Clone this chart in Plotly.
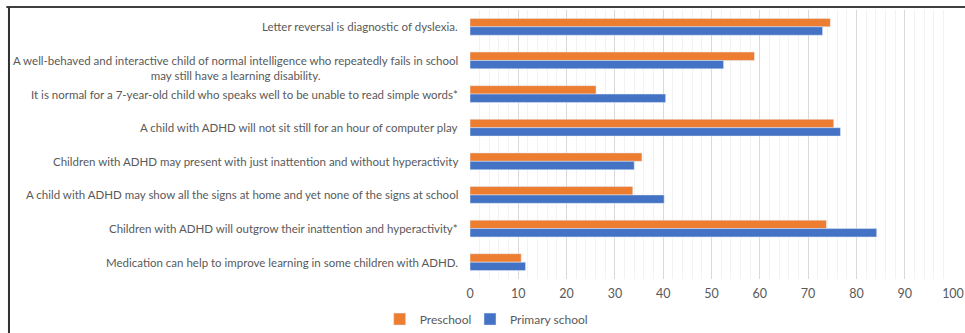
import plotly.graph_objects as go

statements = [
    "Letter reversal is diagnostic of dyslexia.",
    "A well-behaved and interactive child of normal intelligence who repeatedly fails in school<br>may still have a learning disability.",
    "It is normal for a 7-year-old child who speaks well to be unable to read simple words*",
    "A child with ADHD will not sit still for an hour of computer play",
    "Children with ADHD may present with just inattention and without hyperactivity",
    "A child with ADHD may show all the signs at home and yet none of the signs at school",
    "Children with ADHD will outgrow their inattention and hyperactivity*",
    "Medication can help to improve learning in some children with ADHD.",
]
preschool = [74.6, 58.9, 26.1, 75.3, 35.6, 33.7, 73.8, 10.6]
primary_school = [73.0, 52.5, 40.5, 76.7, 34.0, 40.2, 84.2, 11.5]
x_ticks = [0, 10, 20, 30, 40, 50, 60, 70, 80, 90, 100]

ORANGE = "#ED7D31"
BLUE = "#4472C4"
TEXT = "#595959"
FONT = "Lato"

fig = go.Figure()
fig.add_trace(go.Bar(y=statements, x=preschool, orientation="h", name="Preschool",
                     marker=dict(color=ORANGE), legend="legend"))
fig.add_trace(go.Bar(y=statements, x=primary_school, orientation="h", name="Primary school",
                     marker=dict(color=BLUE), legend="legend2"))

# statement labels, centred line-by-line and right-aligned against the plot
for s in statements:
    multi = "<br>" in s
    fig.add_annotation(x=0, xref="paper", y=s, yref="y", text=s, showarrow=False,
                       xanchor="right", yanchor="middle", align="center",
                       xshift=-10, yshift=-8 if multi else 0,
                       font=dict(family=FONT, size=11.5, color=TEXT))

# outer frame lines (top and left)
fig.add_shape(type="line", xref="paper", yref="paper", x0=-0.96, x1=1.03,
              y0=1.011, y1=1.011, line=dict(color="#404040", width=2))
fig.add_shape(type="line", xref="paper", yref="paper", x0=-0.9545, x1=-0.9545,
              y0=1.011, y1=-0.21, line=dict(color="#303030", width=2))

legend_style = dict(orientation="h", xanchor="left", y=-0.149, yanchor="middle",
                    bgcolor="rgba(0,0,0,0)",
                    font=dict(family=FONT, size=12, color=TEXT), itemwidth=30)

fig.update_layout(
    width=965, height=333,
    margin=dict(l=470, r=12, t=10, b=54, autoexpand=False),
    paper_bgcolor="white", plot_bgcolor="white",
    barmode="group", bargap=0.5, bargroupgap=0,
    font=dict(family=FONT, size=12, color=TEXT),
    showlegend=True,
    legend=dict(x=-0.187, **legend_style),
    legend2=dict(x=0.0, **legend_style),
    xaxis=dict(range=[0, 100], tickvals=x_ticks, showgrid=True, gridcolor="#D9D9D9",
               gridwidth=1, zeroline=False, showline=False, ticks="", automargin=False,
               ticklabelstandoff=5,
               tickfont=dict(family=FONT, size=12.5, color=TEXT),
               minor=dict(dtick=2, showgrid=True, gridcolor="#F2F2F2", gridwidth=1)),
    yaxis=dict(autorange="reversed", showticklabels=False, showgrid=False,
               zeroline=False, showline=False, ticks="", automargin=False),
)

fig.write_html("out.html")
